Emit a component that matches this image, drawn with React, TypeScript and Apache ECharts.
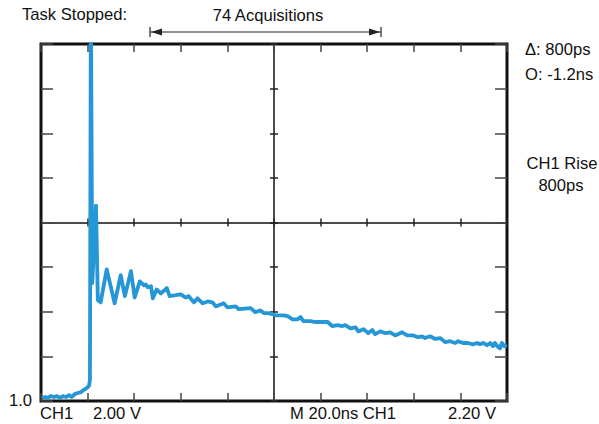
import React, { useEffect, useRef } from "react";
import * as echarts from "echarts";

// Trace samples in screen divisions (x: 0..10 horizontal divisions, y: 0..8 vertical divisions)
const traceX = [
  0.02, 0.09, 0.15, 0.21, 0.28, 0.34, 0.41, 0.47, 0.54, 0.6, 0.66, 0.73, 0.79, 0.86, 0.92, 0.98, 1.03, 1.05,
  1.07, 1.1, 1.18, 1.22, 1.28, 1.41, 1.58, 1.71, 1.8, 1.93, 2.01, 2.12, 2.21, 2.25, 2.29, 2.36, 2.4, 2.48,
  2.57, 2.7, 2.76, 2.89, 3.0, 3.1, 3.17, 3.28, 3.36, 3.47, 3.58, 3.68, 3.75, 3.92, 4.0, 4.18, 4.24, 4.5,
  4.6, 4.71, 4.78, 4.88, 4.99, 5.03, 5.2, 5.29, 5.4, 5.5, 5.57, 5.63, 5.78, 5.89, 6.15, 6.25, 6.36, 6.47,
  6.53, 6.64, 6.75, 6.81, 6.92, 7.02, 7.11, 7.17, 7.28, 7.39, 7.49, 7.6, 7.75, 7.86, 7.99, 8.09, 8.18,
  8.24, 8.35, 8.46, 8.57, 8.67, 8.78, 8.89, 8.95, 9.06, 9.16, 9.27, 9.36, 9.42, 9.49, 9.57, 9.64, 9.7,
  9.74, 9.81, 9.85, 9.89, 9.94, 10.0,
];
const traceY = [
  0.07, 0.09, 0.07, 0.11, 0.09, 0.11, 0.07, 0.11, 0.09, 0.13, 0.09, 0.16, 0.18, 0.2, 0.25, 0.29, 0.34, 0.47,
  9.0, 2.64, 4.38, 2.26, 2.21, 2.95, 2.19, 2.82, 2.35, 2.91, 2.32, 2.68, 2.59, 2.61, 2.55, 2.57, 2.3, 2.5,
  2.41, 2.53, 2.35, 2.37, 2.39, 2.32, 2.35, 2.21, 2.3, 2.19, 2.23, 2.21, 2.12, 2.19, 2.1, 2.12, 2.06, 2.08,
  1.99, 2.03, 1.97, 1.97, 1.94, 1.92, 1.92, 1.9, 1.83, 1.83, 1.88, 1.79, 1.79, 1.77, 1.77, 1.68, 1.7, 1.68,
  1.7, 1.63, 1.65, 1.56, 1.61, 1.52, 1.59, 1.5, 1.56, 1.52, 1.54, 1.47, 1.54, 1.47, 1.47, 1.43, 1.45,
  1.41, 1.45, 1.39, 1.41, 1.32, 1.34, 1.3, 1.34, 1.3, 1.3, 1.27, 1.3, 1.27, 1.3, 1.25, 1.3, 1.23,
  1.3, 1.21, 1.18, 1.3, 1.23, 1.25,
];

const headerLeft = "Task Stopped:";
const headerCenter = "74 Acquisitions";
const sideTexts = ["Δ: 800ps", "O: -1.2ns"];
const measureTexts = ["CH1 Rise", "800ps"];
const levelLabel = "1.0";
const footerLabels = ["CH1", "2.00 V", "M 20.0ns CH1", "2.20 V"];

const FONT = "'Liberation Sans', Arial, Helvetica, sans-serif";

export default function App() {
  const ref = useRef<HTMLDivElement>(null);
  useEffect(() => {
    if (!ref.current) return;
    const chart = echarts.init(ref.current, undefined, { renderer: "svg" });
    const tickGray = "#444";
    const hiddenLabel = { show: false };
    const noSplit = { show: false };
    const xBase = { type: "value", min: 0, max: 10, interval: 1, axisLabel: hiddenLabel, splitLine: noSplit };
    const yBase = { type: "value", min: 0, max: 8, interval: 1, axisLabel: hiddenLabel, splitLine: noSplit };
    const textStyle = (extra: any) => ({ fontFamily: FONT, fontSize: 16.6, fill: "#111", ...extra });
    chart.setOption({
      animation: false,
      grid: {
        left: 41,
        right: 92,
        top: 44,
        bottom: 23,
        show: true,
        borderColor: "#111",
        borderWidth: 3,
        backgroundColor: "transparent",
      },
      xAxis: [
        { ...xBase, position: "bottom", axisLine: { show: false, onZero: false }, axisTick: { show: true, inside: true, length: 8, lineStyle: { color: tickGray, width: 1.5 } } },
        { ...xBase, position: "top", axisLine: { show: false, onZero: false }, axisTick: { show: true, inside: true, length: 8, lineStyle: { color: tickGray, width: 1.5 } } },
        { ...xBase, position: "bottom", offset: -178.5, axisLine: { show: true, onZero: false, lineStyle: { color: "#111", width: 1.5 } }, axisTick: { show: true, inside: true, length: 4, lineStyle: { color: "#222", width: 1.5 } } },
        { ...xBase, position: "bottom", offset: -178.5, axisLine: { show: false, onZero: false }, axisTick: { show: true, inside: false, length: 4, lineStyle: { color: "#222", width: 1.5 } } },
      ],
      yAxis: [
        { ...yBase, position: "left", axisLine: { show: false, onZero: false }, axisTick: { show: true, inside: true, length: 12, lineStyle: { color: tickGray, width: 1.5 } } },
        { ...yBase, position: "right", axisLine: { show: false, onZero: false }, axisTick: { show: true, inside: true, length: 12, lineStyle: { color: tickGray, width: 1.5 } } },
        { ...yBase, position: "left", offset: -233, axisLine: { show: true, onZero: false, lineStyle: { color: "#111", width: 1.5 } }, axisTick: { show: true, inside: true, length: 4, lineStyle: { color: "#222", width: 1.5 } } },
        { ...yBase, position: "left", offset: -233, axisLine: { show: false, onZero: false }, axisTick: { show: true, inside: false, length: 4, lineStyle: { color: "#222", width: 1.5 } } },
      ],
      series: [
        {
          type: "line",
          xAxisIndex: 0,
          yAxisIndex: 0,
          data: traceX.map((x, i) => [x, traceY[i]]),
          showSymbol: false,
          symbol: "none",
          clip: true,
          lineStyle: { color: "#2596d6", width: 3.8, join: "round" },
          z: 5,
        },
      ],
      graphic: [
        { type: "text", left: 22, top: 6, style: textStyle({ text: headerLeft }) },
        { type: "text", x: 268, y: 15, style: textStyle({ text: headerCenter, textAlign: "center", textVerticalAlign: "middle" }) },
        { type: "line", shape: { x1: 150, y1: 32, x2: 381, y2: 32 }, style: { stroke: "#222", lineWidth: 1.2 } },
        { type: "line", shape: { x1: 150, y1: 27, x2: 150, y2: 37 }, style: { stroke: "#222", lineWidth: 1.2 } },
        { type: "line", shape: { x1: 381, y1: 27, x2: 381, y2: 37 }, style: { stroke: "#222", lineWidth: 1.2 } },
        { type: "polygon", shape: { points: [[151, 32], [162, 28.5], [162, 35.5]] }, style: { fill: "#222" } },
        { type: "polygon", shape: { points: [[380, 32], [369, 28.5], [369, 35.5]] }, style: { fill: "#222" } },
        { type: "text", x: 525, y: 49, style: textStyle({ text: sideTexts[0], textVerticalAlign: "middle" }) },
        { type: "text", x: 525, y: 74, style: textStyle({ text: sideTexts[1], textVerticalAlign: "middle" }) },
        { type: "text", x: 562, y: 163, style: textStyle({ text: measureTexts[0], textAlign: "center", textVerticalAlign: "middle" }) },
        { type: "text", x: 561, y: 185, style: textStyle({ text: measureTexts[1], textAlign: "center", textVerticalAlign: "middle" }) },
        { type: "text", x: 32, y: 400, style: textStyle({ text: levelLabel, textAlign: "right", textVerticalAlign: "middle" }) },
        { type: "text", x: 40, y: 413, style: textStyle({ text: footerLabels[0], textVerticalAlign: "middle" }) },
        { type: "text", x: 93, y: 413, style: textStyle({ text: footerLabels[1], textVerticalAlign: "middle" }) },
        { type: "text", x: 290, y: 413, style: textStyle({ text: footerLabels[2], textVerticalAlign: "middle" }) },
        { type: "text", x: 448, y: 413, style: textStyle({ text: footerLabels[3], textVerticalAlign: "middle" }) },
      ],
    });
    return () => chart.dispose();
  }, []);
  return <div ref={ref} style={{ width: 599, height: 424, position: "absolute", left: 0, top: 0, background: "#fff" }} />;
}
